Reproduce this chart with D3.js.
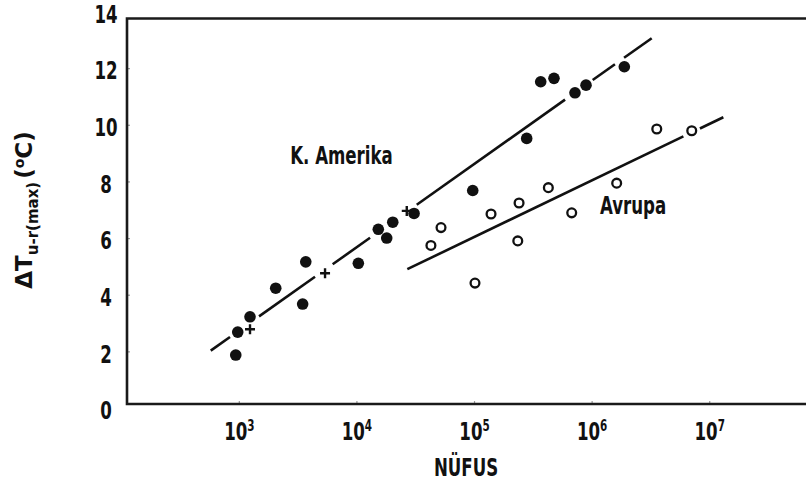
<!DOCTYPE html>
<html><head><meta charset="utf-8">
<script src="https://cdn.jsdelivr.net/npm/d3@7"></script>
<style>
body{margin:0;background:#fff}
svg{display:block}
.nar{font-family:"Liberation Sans Narrow","DejaVu Sans Condensed",sans-serif;font-weight:bold;font-stretch:condensed;fill:#111}
.wide{font-family:"DejaVu Sans",sans-serif;font-weight:bold;fill:#111}
</style></head><body>
<svg id="c" width="806" height="484"></svg>
<script>
// K. Amerika (filled circles)
const amerikaPop = [942, 979, 1245, 2060, 3710, 3490, 10380, 15350, 18100, 20370, 30900, 97500, 280500, 369000, 478600, 722000, 896000, 1897000];
const amerikaDT  = [1.87, 2.68, 3.22, 4.23, 5.16, 3.67, 5.11, 6.31, 6.00, 6.56, 6.87, 7.68, 9.52, 11.52, 11.64, 11.13, 11.40, 12.05];
// K. Amerika (crosses)
const crossPop = [1245, 5410, 26800];
const crossDT  = [2.78, 4.76, 6.96];
// Avrupa (open circles)
const avrupaPop = [43000, 52400, 101900, 139500, 241500, 235500, 428500, 677000, 1633000, 3580000, 7100000];
const avrupaDT  = [5.74, 6.37, 4.41, 6.85, 7.24, 5.90, 7.78, 6.89, 7.94, 9.85, 9.79];
// regression lines: dT = a + b*log10(P), drawn as broken segments
const amerikaFit = [-6.099, 2.942];
const amerikaSegments = [[577, 841], [1486, 4446], [6281, 13060], [32580, 594300], [1021000, 1578000], [1888000, 3243000]];
const avrupaFit = [-3.951, 1.997];
const avrupaSegments = [[27100, 6026000], [8337000, 13180000]];
// axes
const xTicks = [1e3, 1e4, 1e5, 1e6, 1e7];
const xTickExp = ["3", "4", "5", "6", "7"];
const yTicks = [0, 2, 4, 6, 8, 10, 12, 14];
const xDomain = [112, 6.65e7];
const yDomain = [0, 14];
// labels
const seriesLabels = [{text: "K. Amerika", pop: 2735, dt: 8.61}, {text: "Avrupa", pop: 1178000, dt: 6.84}];
const xTitle = "NÜFUS";

const svg = d3.select("#c");
const L = 127, R = 806, T = 18.5, B = 404;
const x = d3.scaleLog().domain(xDomain).range([L, R]);
const y = d3.scaleLinear().domain(yDomain).range([408, 11.5]);
const K = 0.77; // horizontal condensing of the narrow bold labels

function condense(sel, k) {
  sel.each(function() {
    const t = d3.select(this);
    const tx = +t.attr("x") || 0, ty = +t.attr("y") || 0;
    t.attr("transform", `translate(${tx},${ty}) scale(${k},1) translate(${-tx},${-ty})`);
  });
}

// axes ticks
const gy = svg.append("g").attr("transform", `translate(${L},0)`)
  .call(d3.axisLeft(y).tickValues(yTicks).tickSize(-3).tickPadding(0).tickFormat(d3.format("d")));
gy.select(".domain").remove();
gy.selectAll(".tick line").attr("stroke", "#999").attr("stroke-width", 1.2);
gy.selectAll(".tick text").attr("class", "nar").attr("x", -21).attr("y", 2).attr("text-anchor", "middle")
  .attr("dy", "0.36em").style("font-size", "24px");
gy.selectAll(".tick").filter(d => d === 0).select("line").remove();
gy.selectAll(".tick").filter(d => d === 14).select("line").remove();
condense(gy.selectAll(".tick text"), K);

const gx = svg.append("g").attr("transform", `translate(0,${B})`)
  .call(d3.axisBottom(x).tickValues(xTicks).tickSize(-3).tickFormat(""));
gx.select(".domain").remove();
gx.selectAll(".tick line").attr("stroke", "#999").attr("stroke-width", 1.2);
gx.selectAll(".tick text").each(function(d, i) {
  const t = d3.select(this).attr("class", "nar").attr("y", 36).attr("dy", 0)
    .attr("text-anchor", "middle").style("font-size", "24px");
  t.append("tspan").text("10");
  t.append("tspan").attr("dy", -9).style("font-size", "15px").text(xTickExp[i]);
});
condense(gx.selectAll(".tick text"), K);

// frame
const frame = svg.append("g").attr("stroke", "#1a1a1a").attr("stroke-width", 2.6).attr("fill", "none");
frame.append("path").attr("d", `M${R + 5},${T}H${L}V${B}H${R + 5}`);

// regression lines
function drawSegs(segs, fit) {
  const line = d3.line().x(d => x(d)).y(d => y(fit[0] + fit[1] * Math.log10(d)));
  svg.append("g").selectAll("path").data(segs).join("path")
    .attr("d", s => line(s)).attr("stroke", "#111").attr("stroke-width", 2.6)
    .attr("fill", "none").attr("stroke-linecap", "butt");
}
drawSegs(amerikaSegments, amerikaFit);
drawSegs(avrupaSegments, avrupaFit);

// points
svg.append("g").selectAll("circle").data(amerikaPop.map((p, i) => [p, amerikaDT[i]])).join("circle")
  .attr("cx", d => x(d[0])).attr("cy", d => y(d[1])).attr("r", 5.8).attr("fill", "#111");
svg.append("g").selectAll("circle").data(avrupaPop.map((p, i) => [p, avrupaDT[i]])).join("circle")
  .attr("cx", d => x(d[0])).attr("cy", d => y(d[1])).attr("r", 4.4)
  .attr("fill", "#fff").attr("stroke", "#111").attr("stroke-width", 2.3);
svg.append("g").selectAll("path").data(crossPop.map((p, i) => [p, crossDT[i]])).join("path")
  .attr("d", d => { const cx = x(d[0]), cy = y(d[1]); return `M${cx - 5},${cy}H${cx + 5}M${cx},${cy - 5}V${cy + 5}`; })
  .attr("stroke", "#111").attr("stroke-width", 2.4);

// series labels
const sl = svg.append("g").selectAll("text").data(seriesLabels).join("text").attr("class", "nar")
  .attr("x", d => x(d.pop)).attr("y", d => y(d.dt)).style("font-size", "24px").text(d => d.text);
condense(sl, K);

// x title
const xt = svg.append("text").attr("class", "nar").attr("x", (x(1e5) - 8)).attr("y", 476)
  .attr("text-anchor", "middle").style("font-size", "24px").text(xTitle);
condense(xt, K);

// y title
const yt = svg.append("text").attr("class", "wide").attr("transform", "translate(32,210) rotate(-90)")
  .attr("text-anchor", "middle").style("font-size", "23px");
yt.append("tspan").text("ΔT");
yt.append("tspan").attr("dy", 6).style("font-size", "15px").text("u-r(max)");
yt.append("tspan").attr("dy", -6).attr("dx", 3).text("(");
yt.append("tspan").attr("dy", -8).style("font-size", "14px").text("o");
yt.append("tspan").attr("dy", 8).text("C)");
</script>
</body></html>
